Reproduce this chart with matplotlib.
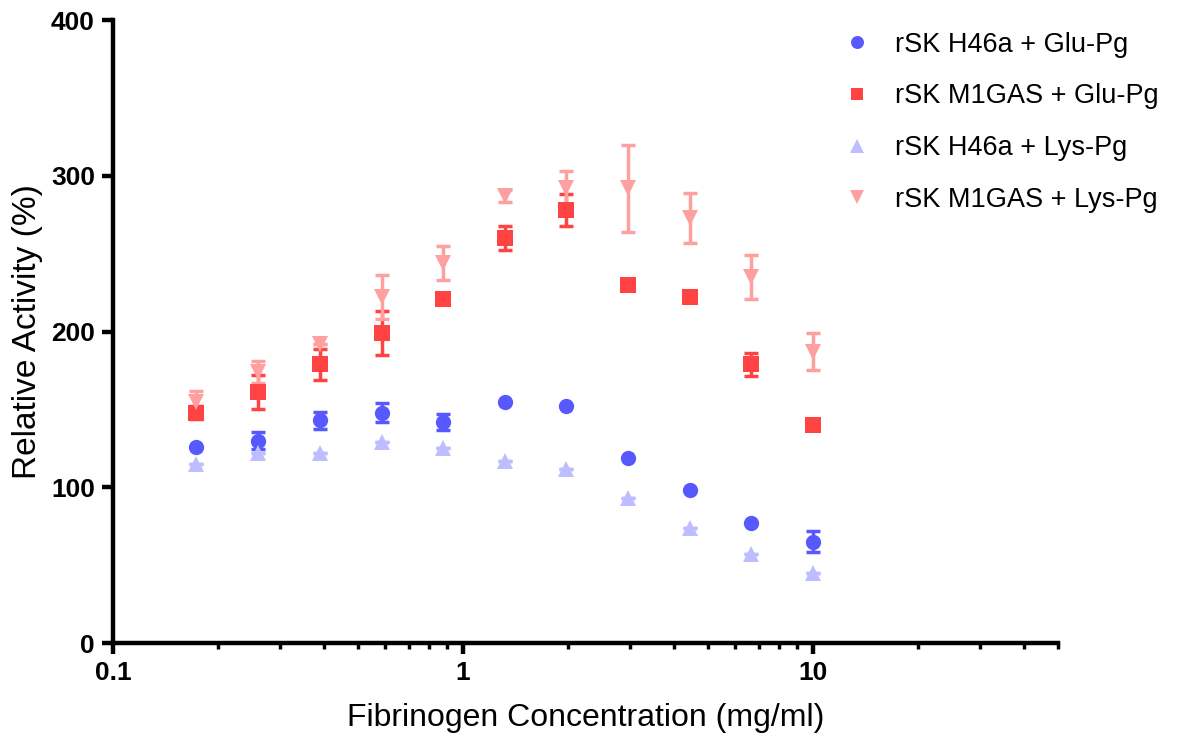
import matplotlib
matplotlib.use("Agg")
import matplotlib.pyplot as plt
from matplotlib.ticker import NullFormatter, LogLocator

plt.rcParams['font.family'] = ['Liberation Sans', 'DejaVu Sans']

conc = [0.173, 0.26, 0.39, 0.585, 0.878, 1.317, 1.975, 2.963, 4.444, 6.667, 10.0]

h46a_glu = [126, 130, 143, 148, 142, 155, 152, 119, 98, 77, 65]
h46a_glu_err = [0, 5.5, 5.5, 6, 5, 0, 0, 0, 0, 0, 6.7]

m1gas_glu = [148, 161, 179, 199, 221, 260, 278, 230, 222, 179, 140]
m1gas_glu_err = [4, 11, 10, 14, 0, 7.5, 10, 0, 0, 7.5, 0]

h46a_lys = [115, 122, 122, 129, 125, 117, 112, 93, 74, 57, 45]
h46a_lys_err = [0, 0, 0, 0, 0, 0, 0, 0, 0, 0, 0]

m1gas_lys = [155, 174, 192, 222, 244, 287, 292, 292, 273, 235, 187]
m1gas_lys_err = [7, 7, 0, 14, 11, 4, 11, 28, 16, 14, 12]

labels = ["rSK H46a + Glu-Pg", "rSK M1GAS + Glu-Pg",
          "rSK H46a + Lys-Pg", "rSK M1GAS + Lys-Pg"]
colors = ["#5858FF", "#FF4242", "#BDBDFF", "#FFA0A0"]
markers = ["o", "s", "^", "v"]

fig = plt.figure(figsize=(11.78, 7.38), dpi=100)
ax = fig.add_axes([0.0959, 0.1287, 0.8020, 0.8441])

series = [(h46a_glu, h46a_glu_err), (m1gas_glu, m1gas_glu_err),
          (h46a_lys, h46a_lys_err), (m1gas_lys, m1gas_lys_err)]
handles = []
for (vals, errs), c, m, lab in zip(series, colors, markers, labels):
    ax.errorbar(conc, vals, yerr=errs, fmt='none', ecolor=c, elinewidth=2.5,
                capsize=5, capthick=2.5, zorder=2)
    h, = ax.plot(conc, vals, linestyle='none', marker=m, color=c,
                 markersize=11 if m in 'os' else 12, markeredgewidth=0,
                 label=lab, zorder=3)
    handles.append(h)

ax.set_xscale('log')
ax.set_xlim(0.1, 50)
ax.set_ylim(0, 400)
ax.set_xticks([0.1, 1, 10])
ax.set_xticklabels(["0.1", "1", "10"])
ax.xaxis.set_minor_locator(LogLocator(base=10, subs=range(2, 10)))
ax.xaxis.set_minor_formatter(NullFormatter())
ax.set_yticks([0, 100, 200, 300, 400])

for s in ['top', 'right']:
    ax.spines[s].set_visible(False)
for s in ['left', 'bottom']:
    ax.spines[s].set_linewidth(3.2)

ax.tick_params(axis='both', which='major', length=8, width=3.2,
               labelsize=19, pad=5)
ax.tick_params(axis='x', which='minor', length=4, width=2.5)
for lbl in ax.get_xticklabels() + ax.get_yticklabels():
    lbl.set_fontweight('bold')

ax.set_xlabel("Fibrinogen Concentration (mg/ml)", fontsize=23, labelpad=13)
ax.set_ylabel("Relative Activity (%)", fontsize=24, labelpad=6)

fig.legend(handles=handles, labels=labels, loc='upper left',
           bbox_to_anchor=(0.692, 0.99), frameon=False, fontsize=19.5,
           handletextpad=0.75, labelspacing=0.95, markerscale=0.85,
           handlelength=1.3)

fig.savefig("out.png", dpi=100)
